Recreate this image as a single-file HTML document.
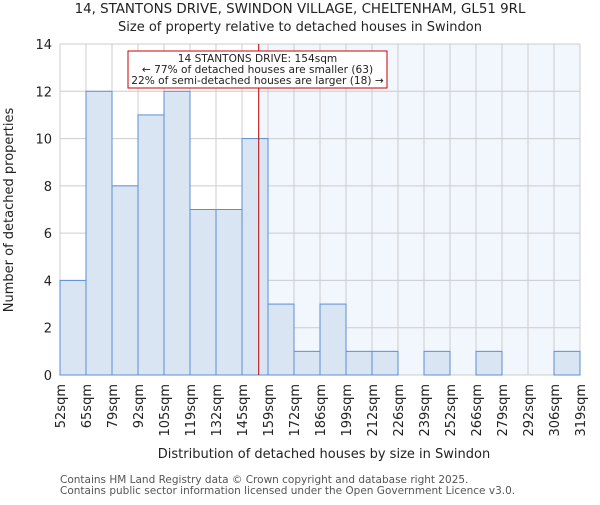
<!DOCTYPE html>
<html><head><meta charset="utf-8"><style>
body{margin:0;background:#fff;}
text{font-family:"DejaVu Sans","Liberation Sans",sans-serif;fill:#222;}
</style></head><body>
<svg id="chart" width="600" height="500" viewBox="0 0 600 500" xmlns="http://www.w3.org/2000/svg">
<text x="300" y="13" text-anchor="middle" font-size="13.4">14, STANTONS DRIVE, SWINDON VILLAGE, CHELTENHAM, GL51 9RL</text>
<text x="300" y="31" text-anchor="middle" font-size="13">Size of property relative to detached houses in Swindon</text>
<g id="plot"></g>
<text x="324" y="458" text-anchor="middle" font-size="13">Distribution of detached houses by size in Swindon</text>
<text transform="translate(13,210) rotate(-90)" text-anchor="middle" font-size="13">Number of detached properties</text>
<text x="60" y="483" font-size="10.5" style="fill:#555">Contains HM Land Registry data © Crown copyright and database right 2025.</text>
<text x="60" y="494" font-size="10.5" style="fill:#555">Contains public sector information licensed under the Open Government Licence v3.0.</text>
</svg>
<script>
const binLabels=["52sqm","65sqm","79sqm","92sqm","105sqm","119sqm","132sqm","145sqm","159sqm","172sqm","186sqm","199sqm","212sqm","226sqm","239sqm","252sqm","266sqm","279sqm","292sqm","306sqm","319sqm"];
const counts=[4,12,8,11,12,7,7,10,3,1,3,1,1,0,1,0,1,0,0,1];
const yTicks=[0,2,4,6,8,10,12,14];
const propertySize=154;
const binEdges=[52,65,79,92,105,119,132,145,159,172,186,199,212,226,239,252,266,279,292,306,319];
const NS="http://www.w3.org/2000/svg";
const L=60,R=580,T=44,B=375,yMax=14;
const g=document.getElementById('plot');
const nb=counts.length,bw=(R-L)/nb;
const xi=i=>L+i*bw;
const y=v=>B-(v/yMax)*(B-T);
function xv(v){for(let i=0;i<binEdges.length-1;i++){if(v<=binEdges[i+1])return xi(i)+(v-binEdges[i])/(binEdges[i+1]-binEdges[i])*bw;}return R;}
function el(t,a){const e=document.createElementNS(NS,t);for(const k in a)e.setAttribute(k,a[k]);g.appendChild(e);return e;}
const px=xv(propertySize);
let e=el('rect',{x:px,y:T,width:R-px,height:B-T,fill:'#f2f6fd'});


for(let i=0;i<=nb;i++){e=el('line',{x1:xi(i),x2:xi(i),y1:T,y2:B,stroke:'#cccccc','stroke-width':1});

}
yTicks.forEach(t=>{e=el('line',{x1:L,x2:R,y1:y(t),y2:y(t),stroke:'#cccccc','stroke-width':1});


e=el('text',{x:L-8,y:y(t)+5,'text-anchor':'end','font-size':13});e.textContent=t;

});
counts.forEach((c,i)=>{if(c<=0)return;e=el('rect',{x:xi(i),y:y(c),width:bw,height:B-y(c),fill:'#dae5f4',stroke:'#5b8fd4','stroke-width':1});

});
binLabels.forEach((l,i)=>{e=el('text',{transform:`translate(${xi(i)+5},384) rotate(-90)`,'text-anchor':'end','font-size':13});e.textContent=l;

});
e=el('line',{x1:px,x2:px,y1:T,y2:B,stroke:'#bb0000','stroke-width':1});


e=el('rect',{x:128,y:51,width:259,height:37,fill:'#fff',stroke:'#cc0000','stroke-width':1});


["14 STANTONS DRIVE: 154sqm","← 77% of detached houses are smaller (63)","22% of semi-detached houses are larger (18) →"].forEach((s,k)=>{e=el('text',{x:257.5,y:62+k*11,'text-anchor':'middle','font-size':10.6});e.textContent=s;

});
</script>
</body></html>
